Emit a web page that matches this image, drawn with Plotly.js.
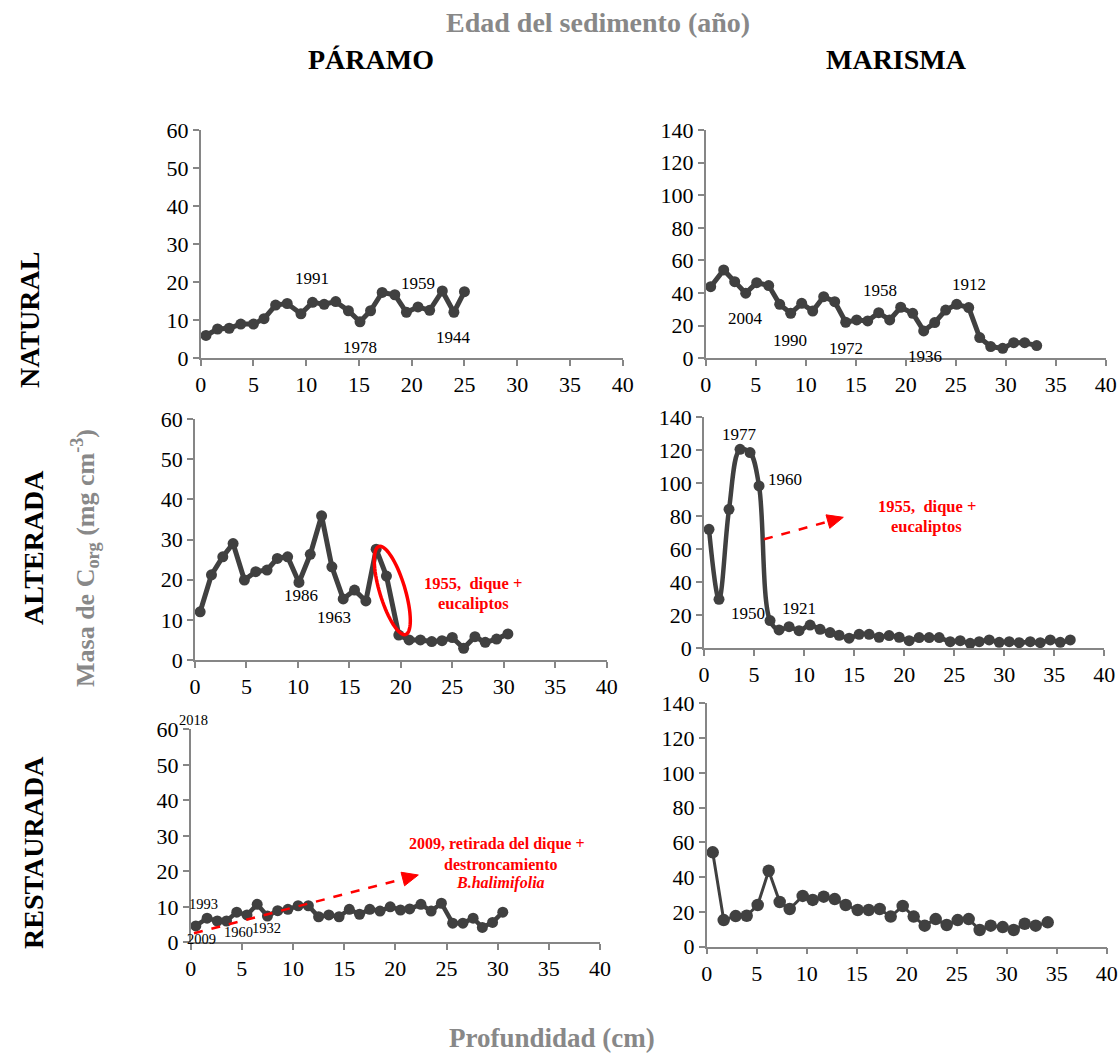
<!DOCTYPE html>
<html>
<head>
<meta charset="utf-8">
<script src="https://cdn.plot.ly/plotly-3.0.1.min.js"></script>
<style>html,body{margin:0;padding:0;background:#fff;}#chart{width:1119px;height:1056px;}</style>
</head>
<body>
<div id="chart"></div>
<script>
// ---------- DATA ----------
// Páramo natural
const depthPN  = [0.5,1.6,2.7,3.8,5.0,6.0,7.1,8.2,9.5,10.6,11.7,12.8,14.0,15.1,16.1,17.2,18.4,19.5,20.6,21.7,22.9,24.0,25.0];
const carbonPN = [6.0,7.7,7.9,9.0,9.0,10.4,14.0,14.4,11.7,14.7,14.2,14.9,12.5,9.6,12.5,17.3,16.7,12.1,13.5,12.6,17.7,12.1,17.5];
// Marisma natural
const depthMN  = [0.5,1.8,2.9,4.0,5.1,6.3,7.4,8.5,9.6,10.7,11.8,12.9,14.0,15.1,16.2,17.3,18.4,19.5,20.7,21.8,22.9,24.0,25.1,26.3,27.4,28.5,29.7,30.8,31.9,33.1];
const carbonMN = [43.9,54.2,47.0,39.9,46.4,44.6,33.1,27.6,33.7,29.0,37.8,34.7,22.1,23.5,22.9,28.0,23.5,31.3,27.6,16.8,21.9,29.6,33.1,31.1,12.7,7.2,6.1,9.6,9.6,7.8];
// Páramo alterada
const depthPA  = [0.5,1.6,2.7,3.7,4.8,5.9,7.0,8.0,9.0,10.1,11.2,12.3,13.3,14.4,15.5,16.6,17.6,18.6,19.8,20.8,21.9,23.0,24.0,25.0,26.1,27.2,28.2,29.3,30.4];
const carbonPA = [12.0,21.2,25.7,29.0,19.9,22.0,22.4,25.3,25.7,19.3,26.3,35.9,23.2,15.2,17.4,14.7,27.6,20.9,6.2,5.0,5.0,4.6,4.8,5.6,2.9,5.8,4.4,5.2,6.5];
// Marisma alterada
const depthMA  = [0.5,1.5,2.5,3.6,4.6,5.5,6.6,7.5,8.5,9.5,10.6,11.6,12.6,13.5,14.5,15.5,16.5,17.5,18.5,19.5,20.5,21.5,22.5,23.5,24.6,25.6,26.6,27.5,28.5,29.5,30.5,31.5,32.6,33.6,34.6,35.6,36.6];
const carbonMA = [72.1,29.7,84.2,120.6,118.6,98.4,16.8,11.1,13.1,10.7,14.1,11.5,9.5,7.9,6.1,8.5,8.5,6.7,7.7,6.7,4.6,6.5,6.5,6.5,4.0,4.6,3.0,4.0,5.1,3.6,4.0,3.4,4.0,3.4,5.1,3.6,5.1];
// Páramo restaurada
const depthPR  = [0.5,1.6,2.6,3.5,4.5,5.5,6.5,7.5,8.5,9.5,10.5,11.5,12.5,13.5,14.5,15.5,16.5,17.5,18.5,19.5,20.5,21.4,22.5,23.5,24.5,25.6,26.6,27.6,28.5,29.5,30.5];
const carbonPR = [4.6,6.8,6.0,6.0,8.5,7.7,10.7,7.4,8.9,9.3,10.3,10.3,7.2,7.7,7.2,9.3,7.9,9.3,8.8,10.0,9.1,9.4,10.7,8.8,11.0,5.4,5.4,6.8,4.2,5.6,8.5];
// Marisma restaurada
const depthMR  = [0.6,1.7,2.9,4.0,5.1,6.2,7.3,8.3,9.6,10.6,11.7,12.8,13.9,15.1,16.2,17.3,18.4,19.6,20.7,21.8,22.9,24.0,25.1,26.2,27.3,28.4,29.6,30.7,31.8,32.9,34.1];
const carbonMR = [54.3,15.3,17.6,17.8,24.0,43.7,25.7,21.7,29.2,26.9,28.8,27.4,24.0,21.1,21.1,21.7,17.3,23.4,17.3,12.1,15.9,12.5,15.3,15.9,9.6,12.1,11.3,9.6,13.2,12.1,14.0];

const xTickVals = [0,5,10,15,20,25,30,35,40];
const colTitles = ["PÁRAMO","MARISMA"];
const rowTitles = ["NATURAL","ALTERADA","RESTAURADA"];
const topTitle = "Edad del sedimento (año)";
const yTitle = "Masa de C<sub>org</sub> (mg cm<sup>-3</sup>)";
const xTitle = "Profundidad (cm)";

// ---------- LAYOUT HELPERS ----------
const W = 1119, H = 1056;
const fx = p => p / W;
const fy = p => 1 - p / H;
const SERIF = "Liberation Serif";
const AX = '#868686';
const LINE = '#404040';

// panel boxes in pixels: [left, right, top, bottom]
const boxes = [
  [200.7, 622.7, 130, 358.3],
  [705.7, 1105.7, 130, 358.3],
  [195, 606.7, 419, 660],
  [704, 1104.3, 417.3, 648.3],
  [190.7, 600, 729.3, 942.3],
  [706.7, 1106.7, 703.3, 946.7]
];
const yMax = [60, 140, 60, 140, 60, 140];

const layout = {
  width: W, height: H,
  margin: {l: 0, r: 0, t: 0, b: 0},
  paper_bgcolor: '#fff', plot_bgcolor: 'rgba(0,0,0,0)',
  showlegend: false,
  annotations: [], shapes: []
};

boxes.forEach((b, i) => {
  const n = i === 0 ? '' : String(i + 1);
  layout['xaxis' + n] = {
    domain: [fx(b[0]), fx(b[1])], anchor: 'y' + n,
    range: [0, 40], tickvals: xTickVals,
    showline: true, linecolor: AX, linewidth: 1.5,
    ticks: 'outside', ticklen: 6, tickcolor: AX, tickwidth: 1.5,
    showgrid: false, zeroline: false,
    tickfont: {family: SERIF, size: 22, color: '#000'}
  };
  layout['yaxis' + n] = {
    domain: [fy(b[3]), fy(b[2])], anchor: 'x' + n,
    range: [0, yMax[i]], dtick: yMax[i] === 60 ? 10 : 20,
    showline: true, linecolor: AX, linewidth: 1.5,
    ticks: 'outside', ticklen: 6, tickcolor: AX, tickwidth: 1.5,
    showgrid: false, zeroline: false,
    tickfont: {family: SERIF, size: 22, color: '#000'}
  };
});

// ---------- TRACES ----------
const series = [
  [depthPN, carbonPN, 'linear', 5, 11],
  [depthMN, carbonMN, 'linear', 5, 11],
  [depthPA, carbonPA, 'linear', 5, 11],
  [depthMA, carbonMA, 'spline', 4.5, 11],
  [depthPR, carbonPR, 'linear', 4.5, 11],
  [depthMR, carbonMR, 'linear', 3, 12.5]
];
const traces = series.map((s, i) => {
  const n = i === 0 ? '' : String(i + 1);
  return {
    x: s[0], y: s[1], type: 'scatter', mode: 'lines+markers',
    xaxis: 'x' + n, yaxis: 'y' + n,
    line: {color: LINE, width: s[3], shape: s[2], smoothing: 1},
    marker: {color: LINE, size: s[4]},
    cliponaxis: false, hoverinfo: 'skip'
  };
});

// ---------- TEXT ----------
function txt(text, px, py, size, color, opts) {
  return Object.assign({
    xref: 'paper', yref: 'paper', x: fx(px), y: fy(py),
    xanchor: 'center', yanchor: 'middle', showarrow: false, text: text,
    font: {family: SERIF, size: size, color: color}
  }, opts || {});
}
const A = layout.annotations;
A.push(txt('<b>' + topTitle + '</b>', 598, 22, 28, '#888888'));
A.push(txt('<b>' + colTitles[0] + '</b>', 371, 60, 28, '#000'));
A.push(txt('<b>' + colTitles[1] + '</b>', 896, 60, 28, '#000'));
A.push(txt('<b>' + rowTitles[0] + '</b>', 30, 320, 28, '#000', {textangle: -90}));
A.push(txt('<b>' + rowTitles[1] + '</b>', 33, 548, 28, '#000', {textangle: -90}));
A.push(txt('<b>' + rowTitles[2] + '</b>', 33, 853, 28, '#000', {textangle: -90}));
A.push(txt('<b>' + yTitle + '</b>', 85, 558, 26, '#888888', {textangle: -90}));
A.push(txt('<b>' + xTitle + '</b>', 552, 1038, 27, '#888888'));

// year labels
const years = [
  ['1991', 311.7, 279, 17], ['1959', 418, 283, 17], ['1978', 360, 347.7, 17], ['1944', 454, 337.7, 17],
  ['2004', 745, 319, 17], ['1990', 790, 340.7, 17], ['1972', 846, 348.7, 17], ['1958', 880, 290.7, 17], ['1936', 925, 356.7, 17], ['1912', 969.3, 284.7, 17],
  ['1986', 300.7, 595, 17], ['1963', 334, 617.3, 17],
  ['1977', 739.3, 434.3, 17], ['1960', 785, 479, 17], ['1950', 748.3, 613.3, 17], ['1921', 799.3, 608.3, 17],
  ['2018', 193.3, 720, 14.5], ['1993', 203.3, 904, 14.5], ['2009', 201.7, 939.3, 14.5], ['1960', 238.3, 932.3, 14.5], ['1932', 266, 928.3, 14.5]
];
years.forEach(y => A.push(txt(y[0], y[1], y[2], y[3], '#000')));

const RED = '#ff0000';
A.push(txt('<b>1955,  dique +</b>', 473.3, 583.3, 16.5, RED));
A.push(txt('<b>eucaliptos</b>', 473.3, 603.3, 16.5, RED));
A.push(txt('<b>1955,  dique +</b>', 926.7, 506.7, 16.5, RED));
A.push(txt('<b>eucaliptos</b>', 926.7, 526.7, 16.5, RED));
A.push(txt('<b>2009, retirada del dique +</b>', 496.7, 844, 16, RED));
A.push(txt('<b>destroncamiento</b>', 500, 864, 16, RED));
A.push(txt('<b><i>B.halimifolia</i></b>', 500, 882.7, 16, RED));

// dashed arrows with filled triangular heads
function dashedArrow(x0, y0, x1, y1) {
  const dx = x1 - x0, dy = y1 - y0, L = Math.hypot(dx, dy);
  const ux = dx / L, uy = dy / L;
  const hl = 16, hw = 7;
  const bx = x1 - ux * hl, by = y1 - uy * hl;
  layout.shapes.push({
    type: 'line', xref: 'paper', yref: 'paper',
    x0: fx(x0), y0: fy(y0), x1: fx(bx), y1: fy(by),
    line: {color: RED, width: 2.5, dash: 'dash'}
  });
  const p1 = [bx - uy * hw, by + ux * hw], p2 = [bx + uy * hw, by - ux * hw];
  layout.shapes.push({
    type: 'path', xref: 'paper', yref: 'paper',
    path: 'M' + fx(x1) + ',' + fy(y1) + ' L' + fx(p1[0]) + ',' + fy(p1[1]) + ' L' + fx(p2[0]) + ',' + fy(p2[1]) + ' Z',
    fillcolor: RED, line: {color: RED, width: 1}
  });
}
dashedArrow(764, 539.3, 843.3, 517.3);
dashedArrow(194, 933.3, 418.3, 875);

// red ellipse (rotated) in panel 3
(function () {
  const cx = 392.3, cy = 590.5, a = 46, b = 12.7, th = 16.8 * Math.PI / 180;
  const u = [Math.sin(th), Math.cos(th)], v = [Math.cos(th), -Math.sin(th)];
  let d = '';
  for (let k = 0; k <= 72; k++) {
    const t = 2 * Math.PI * k / 72;
    const px = cx + a * Math.cos(t) * u[0] + b * Math.sin(t) * v[0];
    const py = cy + a * Math.cos(t) * u[1] + b * Math.sin(t) * v[1];
    d += (k === 0 ? 'M' : 'L') + fx(px).toFixed(5) + ',' + fy(py).toFixed(5) + ' ';
  }
  layout.shapes.push({type: 'path', xref: 'paper', yref: 'paper', path: d + 'Z', line: {color: RED, width: 3.5}});
})();

Plotly.newPlot('chart', traces, layout, {displayModeBar: false, responsive: false});
</script>
</body>
</html>
